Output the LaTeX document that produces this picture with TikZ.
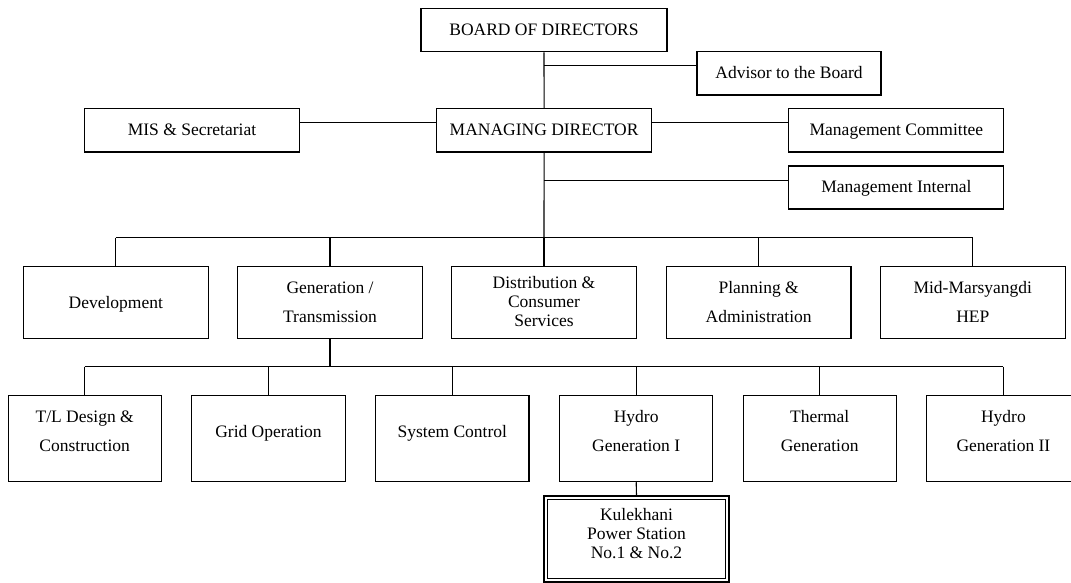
\documentclass[tikz,border=0pt]{standalone}
\usepackage{fontspec}
\setmainfont{Liberation Serif}
\newcommand\tx[2]{\raisebox{#1}[0pt][0pt]{\begin{tabular}{@{}c@{}}#2\end{tabular}}}
\begin{document}
\begin{tikzpicture}[x=1pt,y=-1pt,
  ln/.style={line width=1.1pt, draw=black},
  bx/.style={draw=black, line width=1.1pt, inner sep=0pt, fill=white, font=\fontsize{17.5}{29}\selectfont},
  topbox/.style={bx, minimum width=215pt, minimum height=43.5pt},
  midbox/.style={bx, minimum width=184.5pt, minimum height=71.8pt},
  lowbox/.style={bx, minimum width=153.3pt, minimum height=86pt},
  tight/.style={font=\fontsize{17.5}{19}\selectfont},
  dblbox/.style={bx, tight, double, double distance=2.6pt, minimum width=181.3pt, minimum height=82.3pt}
]
\useasboundingbox (0,0) rectangle (1071,583);
% top part
\node[topbox, minimum width=246pt] (board) at (544,30) {\tx{-3.7pt}{BOARD OF DIRECTORS}};
\node[topbox, minimum width=184pt] (adv) at (789,73.3) {\tx{-3.7pt}{Advisor to the Board}};
\node[topbox] (mis) at (192,130.3) {\tx{-4pt}{MIS \& Secretariat}};
\node[topbox] (md) at (544.1,130.3) {\tx{-4pt}{MANAGING DIRECTOR}};
\node[topbox] (mc) at (896.4,130.3) {\tx{-4pt}{Management Committee}};
\node[topbox, minimum height=43pt] (mi) at (896.4,187.5) {\tx{-4pt}{Management Internal}};
% second level
\node[midbox] (dev) at (115.8,302.4) {\tx{-4.2pt}{Development}};
\node[midbox] (gen) at (330,302.4) {\tx{-4.1pt}{Generation /\\Transmission}};
\node[midbox, tight] (dist) at (544,302.4) {\tx{-5.5pt}{Distribution \&\\Consumer\\Services}};
\node[midbox] (plan) at (758.7,302.4) {\tx{-4.1pt}{Planning \&\\Administration}};
\node[midbox] (mid) at (972.8,302.4) {\tx{-4.1pt}{Mid-Marsyangdi\\HEP}};
% third level
\node[lowbox] (tl) at (84.7,438.7) {\tx{2.8pt}{T/L Design \&\\Construction}};
\node[lowbox] (grid) at (268.5,438.7) {\tx{2.8pt}{Grid Operation}};
\node[lowbox] (sys) at (452.3,438.7) {\tx{2.8pt}{System Control}};
\node[lowbox] (hyone) at (636.2,438.7) {\tx{2.8pt}{Hydro\\Generation I}};
\node[lowbox] (therm) at (819.7,438.7) {\tx{2.8pt}{Thermal\\Generation}};
\node[lowbox] (hytwo) at (1003.4,438.7) {\tx{2.8pt}{Hydro\\Generation II}};
% fourth level
\node[dblbox] (kul) at (636.5,539) {\tx{-1.5pt}{Kulekhani\\Power Station\\No.1 \& No.2}};
% connectors
\coordinate (advj) at (544,65.7);
\coordinate (mij) at (544,180.7);
\coordinate (bustwo) at (544,237.5);
\coordinate (busthree) at (330,366.7);
\draw[ln] (board.south) -- (md.north);
\draw[ln] (advj) -- (advj -| adv.west);
\draw[ln] ([yshift=7.6pt]md.west) -- ([yshift=7.6pt]mis.east);
\draw[ln] ([yshift=7.6pt]md.east) -- ([yshift=7.6pt]mc.west);
\draw[ln] (md.south) -- (bustwo);
\draw[ln] (mij) -- (mij -| mi.west);
\draw[ln] (bustwo -| dev.north) -- (bustwo -| mid.north);
\foreach \n in {dev,gen,dist,plan,mid} \draw[ln] (bustwo -| \n.north) -- (\n.north);
\draw[ln] (gen.south) -- (busthree);
\draw[ln] (busthree -| tl.north) -- (busthree -| hytwo.north);
\foreach \n in {tl,grid,sys,hyone,therm,hytwo} \draw[ln] (busthree -| \n.north) -- (\n.north);
\draw[ln] (hyone.south) -- ([yshift=1.85pt]kul.north);
\end{tikzpicture}
\end{document}
